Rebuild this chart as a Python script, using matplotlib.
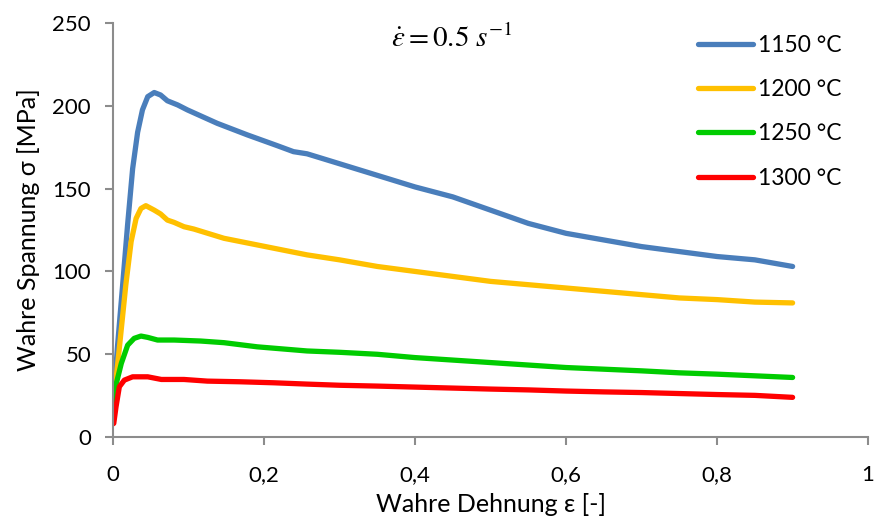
import matplotlib
matplotlib.use("Agg")
import matplotlib.pyplot as plt

plt.rcParams['font.family'] = ['Lato', 'DejaVu Sans']

# True strain / true stress curves at strain rate 0.5 1/s
strain_1150 = [0.0, 0.006, 0.0128, 0.0193, 0.026, 0.0326, 0.039, 0.046, 0.0546, 0.063, 0.072, 0.0856,
               0.0985, 0.138, 0.178, 0.217, 0.239, 0.257, 0.3, 0.35, 0.4, 0.45, 0.5, 0.55, 0.6,
               0.65, 0.7, 0.75, 0.8, 0.85, 0.9]
stress_1150 = [18, 55, 92, 128, 162, 184, 197.5, 205.5, 208, 206.5, 203, 200.5,
               197.5, 189.4, 182.4, 176, 172.3, 171, 165, 158, 151, 145, 137, 129, 123,
               119, 115, 112, 109, 107, 103]

strain_1200 = [0.0, 0.008, 0.017, 0.024, 0.0306, 0.037, 0.0435, 0.0546, 0.063, 0.072, 0.081, 0.094,
               0.107, 0.147, 0.191, 0.235, 0.257, 0.3, 0.35, 0.4, 0.45, 0.5, 0.55, 0.6,
               0.65, 0.7, 0.75, 0.8, 0.85, 0.9]
stress_1200 = [18, 52, 92, 118, 132, 138, 139.7, 137, 134.7, 131, 129.6, 127,
               125.6, 120, 116, 112, 110, 107, 103, 100, 97, 94, 92, 90,
               88, 86, 84, 83, 81.5, 81]

strain_1250 = [0.0, 0.002, 0.011, 0.0194, 0.028, 0.037, 0.046, 0.059, 0.081, 0.116, 0.147, 0.191,
               0.257, 0.3, 0.35, 0.4, 0.45, 0.5, 0.55, 0.6, 0.65, 0.7, 0.75, 0.8, 0.85, 0.9]
stress_1250 = [9, 28, 44.5, 55.5, 59.6, 61, 60.2, 58.6, 58.6, 58, 57, 54.5,
               52, 51.2, 50, 48, 46.5, 45, 43.5, 42, 41, 40, 38.8, 38, 37, 36]

strain_1300 = [0.0, 0.001, 0.004, 0.0084, 0.015, 0.026, 0.046, 0.064, 0.094, 0.125, 0.169, 0.213,
               0.257, 0.3, 0.35, 0.4, 0.45, 0.5, 0.55, 0.6, 0.65, 0.7, 0.75, 0.8, 0.85, 0.9]
stress_1300 = [8, 8.3, 18.3, 30.4, 34.4, 36.4, 36.4, 34.8, 34.8, 33.8, 33.4, 32.8,
               32, 31.3, 30.8, 30.2, 29.6, 29, 28.5, 27.8, 27.3, 26.9, 26.3, 25.7, 25.2, 24]

labels = ['1150 °C', '1200 °C', '1250 °C', '1300 °C']
colors = ['#4a7ebb', '#ffc000', '#00cc00', '#ff0000']

x_ticks = [0, 0.2, 0.4, 0.6, 0.8, 1]
x_ticklabels = ['0', '0,2', '0,4', '0,6', '0,8', '1']
y_ticks = [0, 50, 100, 150, 200, 250]

fig = plt.figure(figsize=(8.76, 5.21), dpi=100)
ax = fig.add_axes([0.129, 0.161, 0.862, 0.795])

series = [(strain_1150, stress_1150), (strain_1200, stress_1200),
          (strain_1250, stress_1250), (strain_1300, stress_1300)]
for (xs, ys), lab, col in zip(series, labels, colors):
    ax.plot(xs, ys, color=col, lw=3.8, label=lab, solid_capstyle='round', solid_joinstyle='round')

ax.set_xlim(0, 1)
ax.set_ylim(0, 250)
ax.set_xticks(x_ticks)
ax.set_xticklabels(x_ticklabels)
ax.set_yticks(y_ticks)

axis_gray = '#8c8c8c'
for side in ['top', 'right']:
    ax.spines[side].set_visible(False)
for side in ['left', 'bottom']:
    ax.spines[side].set_color(axis_gray)
    ax.spines[side].set_linewidth(1.5)
ax.tick_params(axis='both', direction='out', length=5.8, width=1.5, color=axis_gray,
               labelsize=16, labelcolor='black')
ax.tick_params(axis='x', pad=14)
ax.tick_params(axis='y', pad=10)

ax.set_xlabel('Wahre Dehnung ε [-]', fontsize=18, labelpad=6)
ax.set_ylabel('Wahre Spannung σ [MPa]', fontsize=18, labelpad=9)

ax.text(0.449, 241, r'$\dot{\varepsilon} = 0.5\ s^{-1}$', fontsize=21,
        ha='center', va='center', math_fontfamily='stix')

leg = ax.legend(loc='upper left', bbox_to_anchor=(0.775, 0.972), frameon=False, fontsize=16.5,
                handlelength=2.4, handletextpad=0.22, labelspacing=1.02, borderaxespad=0.0,
                borderpad=0.0)

fig.savefig('out.png', dpi=100)
